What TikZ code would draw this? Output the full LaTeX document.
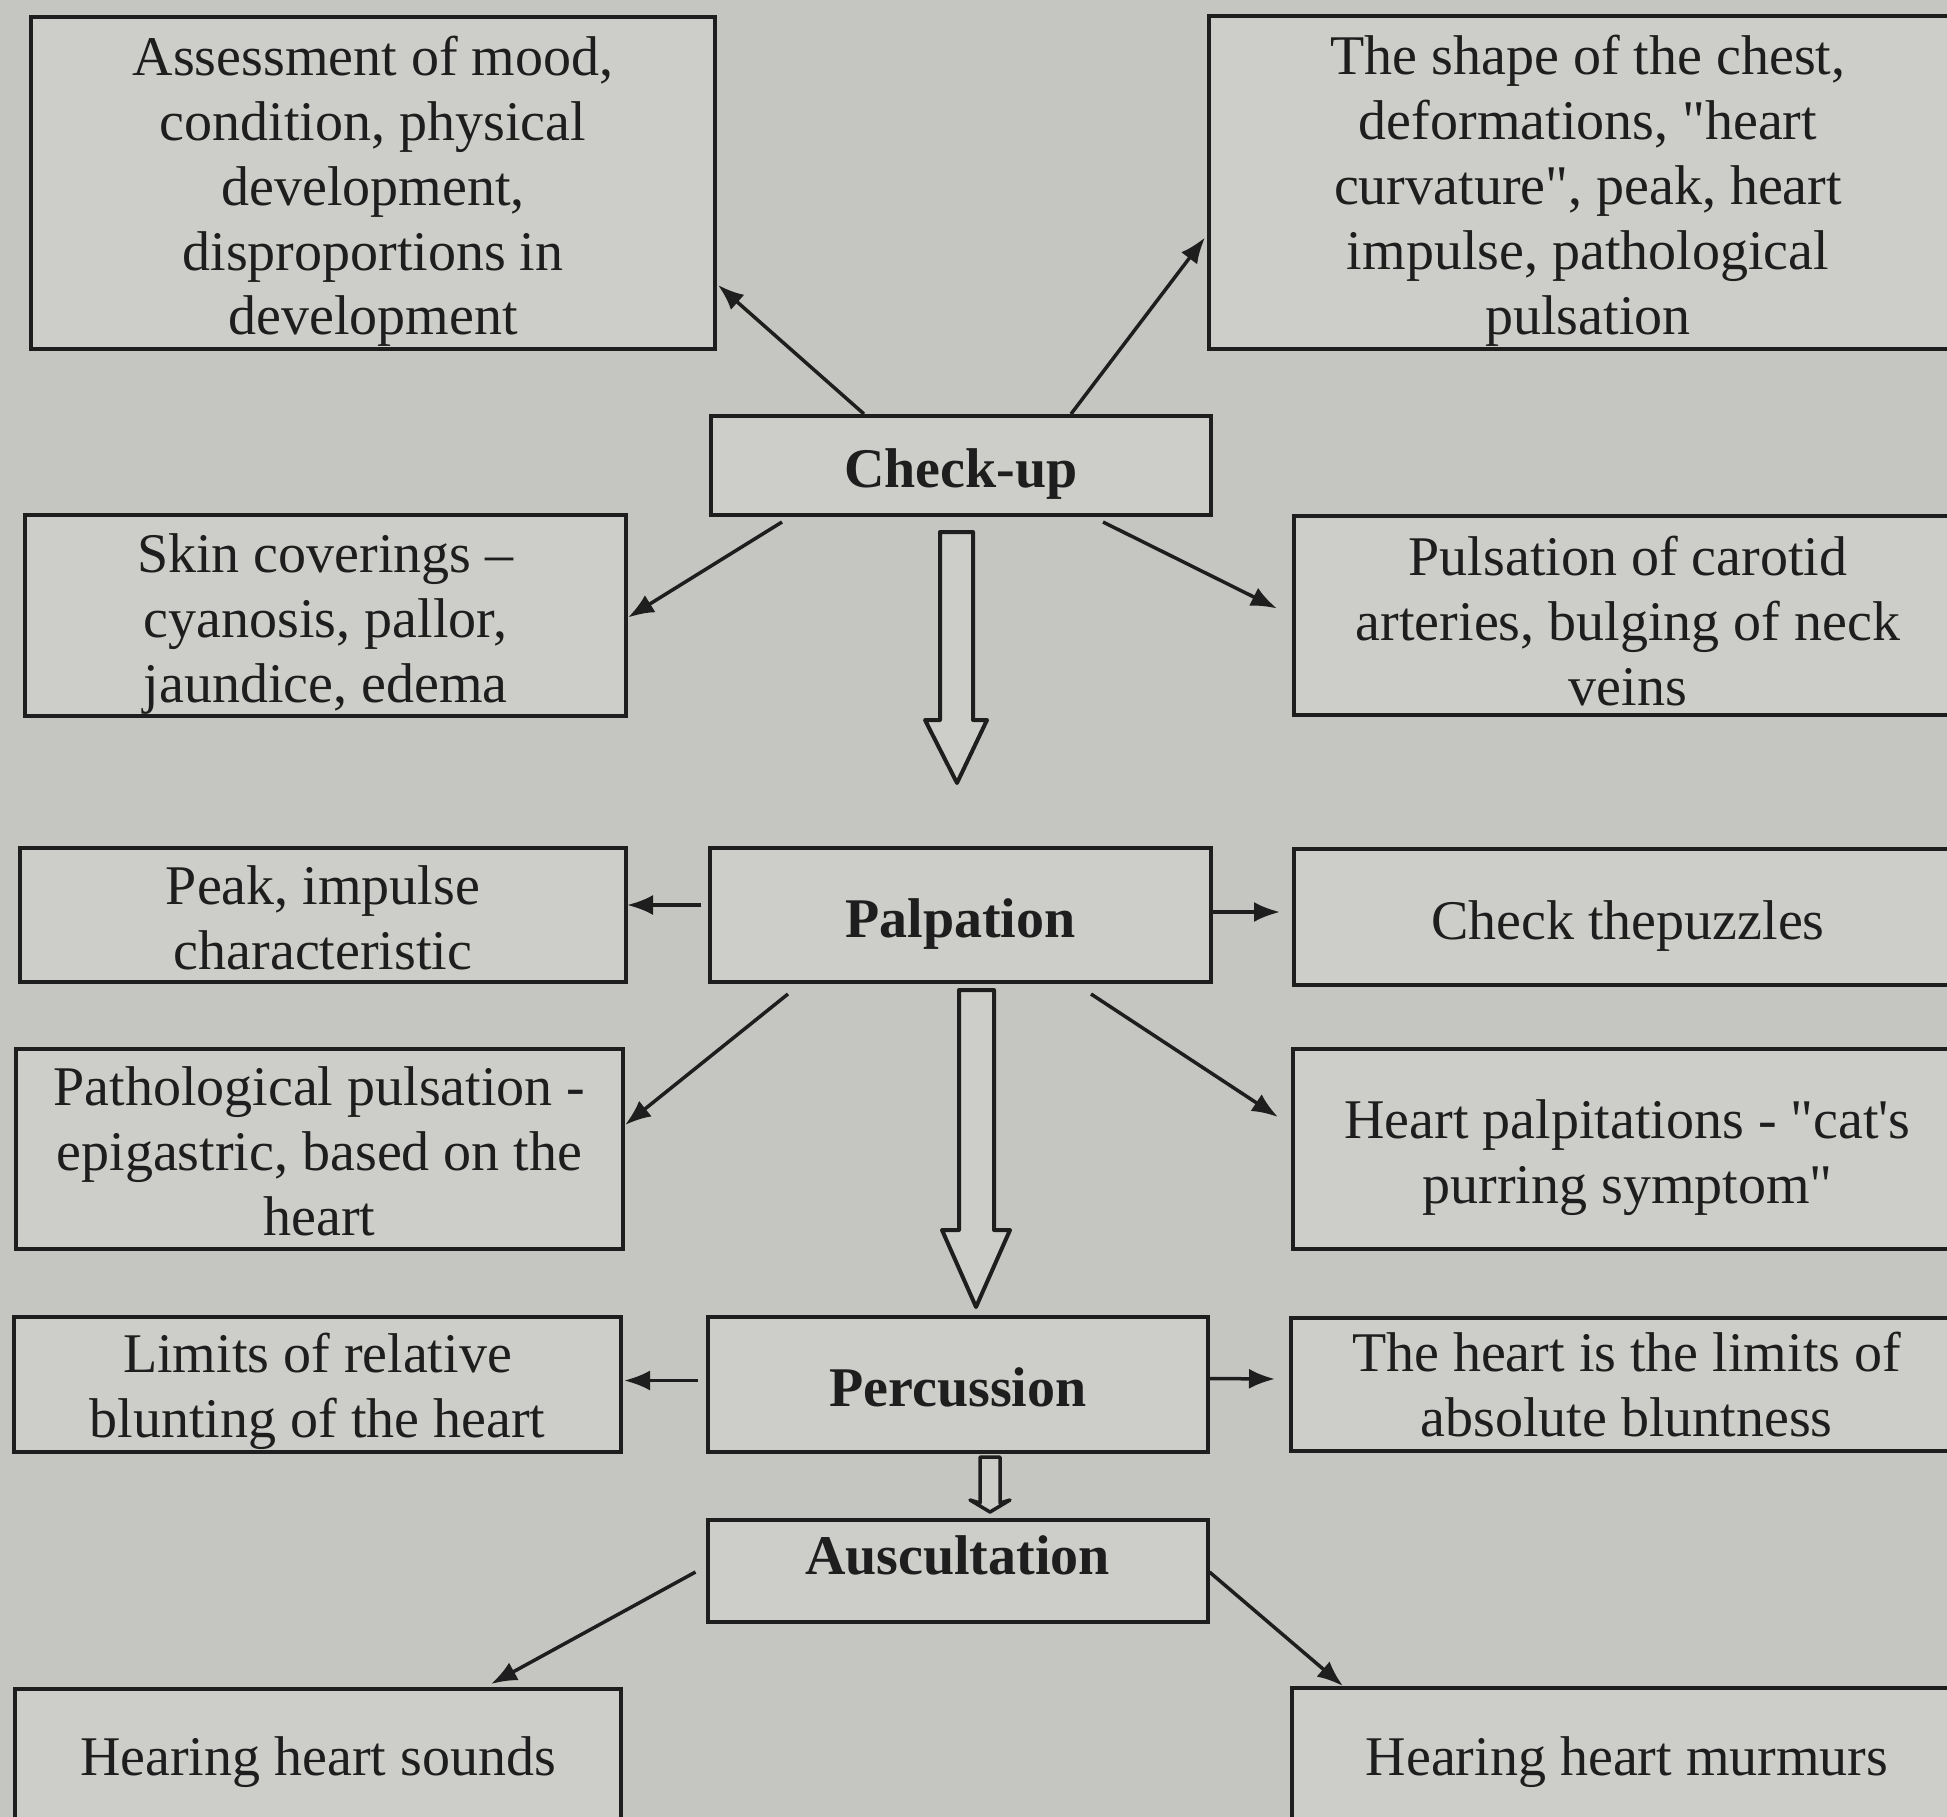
\documentclass[tikz,border=0pt]{standalone}
\usepackage{fontspec}
\setmainfont{Liberation Serif}[Ligatures=TeXReset]
\usetikzlibrary{arrows.meta,calc}
\definecolor{paper}{RGB}{197,198,194}
\definecolor{boxfill}{RGB}{205,206,202}
\definecolor{ink}{RGB}{30,30,30}
% centred lines with even line boxes, moved a little inside the frame
\newcommand\boxlines[2][-9pt]{\raisebox{#1}[\height][\depth]{\begin{tabular}{@{}c@{}}#2\end{tabular}}}
\begin{document}
\begin{tikzpicture}[x=1pt,y=-1pt,
  boxed/.style={draw=ink,fill=boxfill,line width=4pt,inner sep=0pt,
    font=\fontsize{56}{65}\selectfont,text=ink},
  stage/.style={boxed,font=\fontsize{56}{65}\selectfont\bfseries},
  link/.style={draw=ink,line width=3.5pt,-{Latex[length=26pt,width=20pt]}},
  hollow/.style={draw=ink,fill=boxfill,line width=4pt,line join=round}]
\useasboundingbox (0,0) rectangle (1947,1817);
\clip (0,0) rectangle (1947,1817);
\fill[paper] (0,0) rectangle (1947,1817);

% main stages
\node[stage,minimum width=500pt,minimum height=99pt] (check) at (961,465.5) {\boxlines{Check-up}};
\node[stage,minimum width=501pt,minimum height=134pt] (palp) at (960.5,915) {\boxlines{Palpation}};
\node[stage,minimum width=500pt,minimum height=135pt] (perc) at (958,1384.5) {\boxlines{Percussion}};
\node[stage,minimum width=500pt,minimum height=102pt] (ausc) at (957.5,1571) {\boxlines[10pt]{Auscultation}};

% check-up findings
\node[boxed,minimum width=684pt,minimum height=332pt] (mood) at (373,183)
  {\boxlines{Assessment of mood,\\condition, physical\\development,\\disproportions in\\development}};
\node[boxed,minimum width=758pt,minimum height=333pt] (chest) at (1588,182.5)
  {\boxlines{The shape of the chest,\\deformations, "heart\\curvature", peak, heart\\impulse, pathological\\pulsation}};
\node[boxed,minimum width=601pt,minimum height=201pt] (skin) at (325.5,615.5)
  {\boxlines{Skin coverings –\\cyanosis, pallor,\\jaundice, edema}};
\node[boxed,minimum width=668pt,minimum height=199pt] (carotid) at (1628,615.5)
  {\boxlines[-12pt]{Pulsation of carotid\\arteries, bulging of neck\\veins}};

% palpation findings
\node[boxed,minimum width=606pt,minimum height=134pt] (peak) at (323,915)
  {\boxlines{Peak, impulse\\characteristic}};
\node[boxed,minimum width=668pt,minimum height=136pt] (puzzles) at (1628,917)
  {\boxlines{Check thepuzzles}};
\node[boxed,minimum width=607pt,minimum height=200pt] (patho) at (319.5,1149)
  {\boxlines[-8pt]{Pathological pulsation -\\epigastric, based on the\\heart}};
\node[boxed,minimum width=669pt,minimum height=200pt] (palpit) at (1627.5,1149)
  {\boxlines{Heart palpitations - "cat's\\purring symptom"}};

% percussion findings
\node[boxed,minimum width=607pt,minimum height=135pt] (limits) at (317.5,1384.5)
  {\boxlines[-7pt]{Limits of relative\\blunting of the heart}};
\node[boxed,minimum width=671pt,minimum height=133pt] (absolute) at (1626.5,1384)
  {\boxlines[-7pt]{The heart is the limits of\\absolute bluntness}};

% auscultation findings
\node[boxed,minimum width=606pt,minimum height=136pt] (sounds) at (318,1757)
  {\boxlines[-5pt]{Hearing heart sounds}};
\node[boxed,minimum width=670pt,minimum height=138pt] (murmurs) at (1627,1757)
  {\boxlines[-5pt]{Hearing heart murmurs}};

% connectors
\draw[link] ($(check.north west)+(155,0)$) -- ($(mood.east)+(1,102)$);
\draw[link] ($(check.north west)+(362,0)$) -- ($(chest.west)+(-2,55)$);
\draw[link] ($(check.south west)+(73,5)$) -- ($(skin.east)+(0,2)$);
\draw[link] ($(check.south west)+(394,5)$) -- ($(carotid.west)+(-15,-7)$);

\draw[link] ($(palp.west)+(-7,-10)$) -- ($(peak.east)+(-1,-10)$);
\draw[link] ($(palp.east)+(-1,-3)$) -- ($(puzzles.west)+(-12,-5)$);
\draw[link] ($(palp.south west)+(80,10)$) -- ($(patho.east)+(0,-24)$);
\draw[link] ($(palp.south west)+(383,10)$) -- ($(palpit.west)+(-13,-32)$);

\draw[link] ($(perc.west)+(-8,-4)$) -- ($(limits.east)+(1,-4)$);
\draw[link] ($(perc.east)+(0,-6)$) -- ($(absolute.west)+(-14,-5)$);

\draw[link] ($(ausc.west)+(-10,1)$) -- ($(sounds.north west)+(478,-3)$);
\draw[link] ($(ausc.east)+(0,1)$) -- ($(murmurs.north west)+(53,0)$);

% hollow block arrows between stages
\draw[hollow] (940,532) -- (973,532) -- (973,720) -- (987,720) -- (957,783)
  -- (925,720) -- (940,720) -- cycle;
\draw[hollow] (959,990) -- (994,990) -- (994,1230) -- (1010,1230) -- (976,1307)
  -- (942,1230) -- (959,1230) -- cycle;
\draw[hollow,line width=3.5pt] (980,1457) -- (1000,1457) -- (1000,1503) -- (1010,1500)
  -- (990,1512) -- (970,1500) -- (980,1503) -- cycle;
\end{tikzpicture}
\end{document}
